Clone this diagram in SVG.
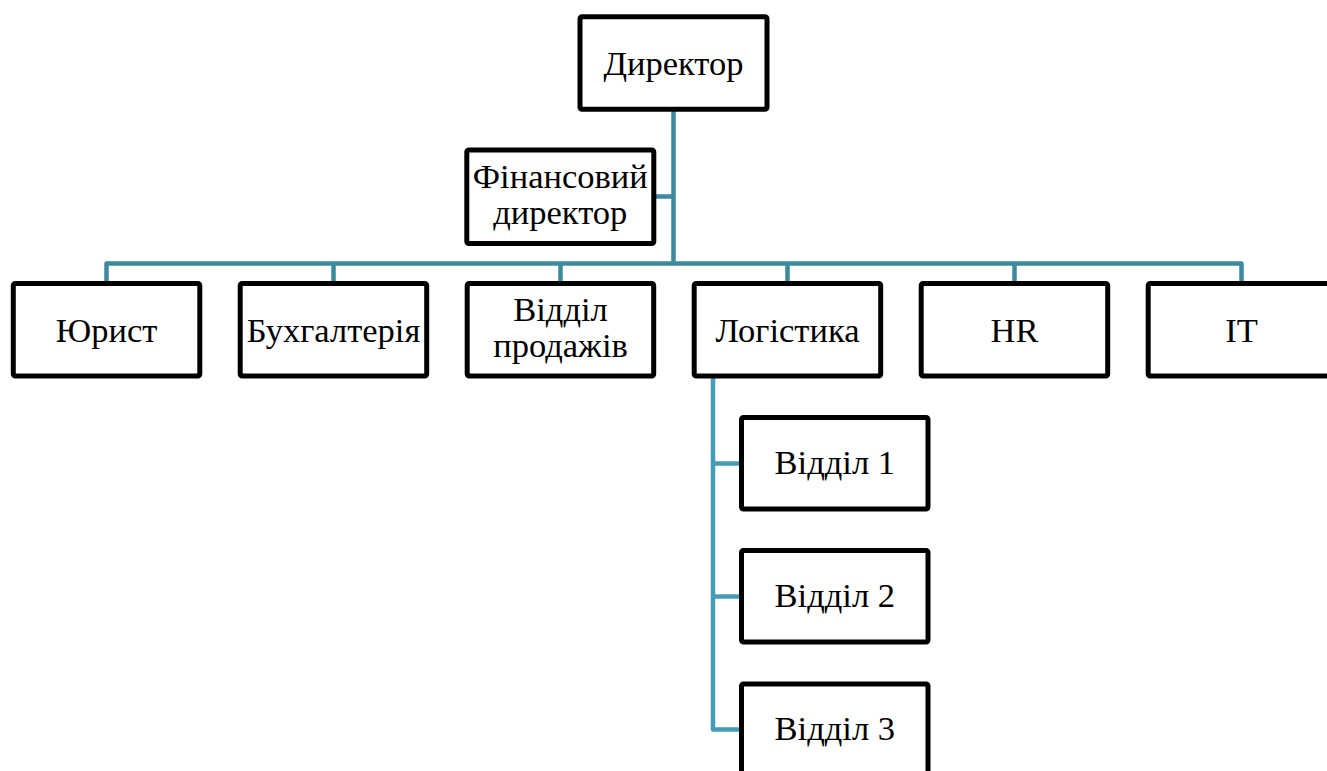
<svg xmlns="http://www.w3.org/2000/svg" width="1327" height="771" viewBox="0 0 1327 771">
<style>
.box{fill:#fff;stroke:#000;stroke-width:5;stroke-linejoin:round}
.lbl{font-family:'Liberation Serif',serif;font-size:34.5px;fill:#000;text-anchor:middle}
.c1{fill:none;stroke:#3d8a9e;stroke-width:4.5;stroke-linejoin:round}
.c2{fill:none;stroke:#459db5;stroke-width:4.5;stroke-linejoin:round}
</style>
<rect width="1327" height="771" fill="#fff"/>
<g id="connectors">
<path class="c1" d="M673.5 110 V262.5"/>
<path class="c1" d="M654 196.5 H673.5"/>
<path class="c1" d="M106.5 283 V263.5 H1241.5 V283"/>
<path class="c1" d="M333.5 263.5 V283 M560.5 263.5 V283 M787.5 263.5 V283 M1014.5 263.5 V283"/>
<path class="c2" d="M713 376 V729.5 H741 M713 463.5 H741 M713 596.5 H741"/>
</g>
<g id="director"><rect class="box" x="580" y="16.8" width="187" height="92.5" rx="2"/><text class="lbl" x="673.5" y="75">Директор</text></g>
<g id="fin"><rect class="box" x="466.8" y="150" width="187" height="93.5" rx="2"/><text class="lbl" x="560.3" y="188">Фінансовий</text><text class="lbl" x="560.3" y="224">директор</text></g>
<g id="lawyer"><rect class="box" x="13.3" y="283.5" width="186.5" height="92.5" rx="2"/><text class="lbl" x="106.5" y="341.5">Юрист</text></g>
<g id="accounting"><rect class="box" x="240.2" y="283.5" width="186.5" height="92.5" rx="2"/><text class="lbl" x="333.5" y="341.5">Бухгалтерія</text></g>
<g id="sales"><rect class="box" x="467.2" y="283.5" width="186.5" height="92.5" rx="2"/><text class="lbl" x="560.5" y="321">Відділ</text><text class="lbl" x="560.5" y="357">продажів</text></g>
<g id="logistics"><rect class="box" x="694.2" y="283.5" width="186.5" height="92.5" rx="2"/><text class="lbl" x="787.5" y="341.5">Логістика</text></g>
<g id="hr"><rect class="box" x="921.2" y="283.5" width="186.5" height="92.5" rx="2"/><text class="lbl" x="1014.5" y="341.5">HR</text></g>
<g id="it"><rect class="box" x="1148.2" y="283.5" width="186.5" height="92.5" rx="2"/><text class="lbl" x="1241.5" y="341.5">IT</text></g>
<g id="dept1"><rect class="box" x="741.5" y="417.5" width="186.5" height="91.5" rx="2"/><text class="lbl" x="834.8" y="474">Відділ 1</text></g>
<g id="dept2"><rect class="box" x="741.5" y="550.5" width="186.5" height="91.5" rx="2"/><text class="lbl" x="834.8" y="607">Відділ 2</text></g>
<g id="dept3"><rect class="box" x="741.5" y="684" width="186.5" height="91.5" rx="2"/><text class="lbl" x="834.8" y="740">Відділ 3</text></g>
</svg>
